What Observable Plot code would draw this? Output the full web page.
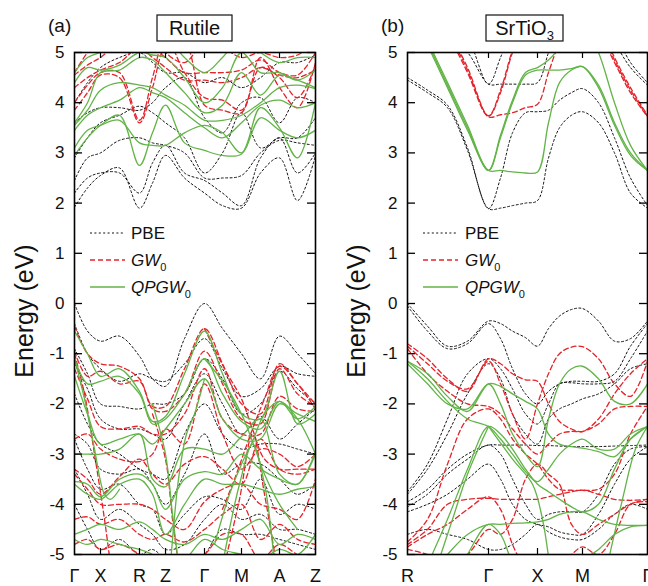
<!DOCTYPE html>
<html><head><meta charset="utf-8">
<script src="https://cdn.jsdelivr.net/npm/d3@7"></script>
<script src="https://cdn.jsdelivr.net/npm/@observablehq/plot@0.6"></script>
<style>
body{margin:0;background:#fff;}
#wrap{position:relative;width:648px;height:586px;overflow:hidden;font-family:"Liberation Sans",Arial,sans-serif;}
.panel{position:absolute;top:0;}
#overlay{position:absolute;left:0;top:0;pointer-events:none;}
</style></head><body><div id="wrap"></div>
<script>
// ---------- k-path (path distance) and labels ----------
const kRutile = [0,13,26,45,65,78,91,110,130,148,167,186,205,223,241];
const kRutileTicks = [0,26,65,91,130,167,205,241];
const kRutileLabels = ["Γ","X","R","Z","Γ","M","A","Z"];
const kSTO = [0,20,40,60,81,93,105,118,130,141,152,164,175,191,207,223,240];
const kSTOTicks = [0,81,130,175,240];
const kSTOLabels = ["R","Γ","X","M","Γ"];
const energyTicks = [-5,-4,-3,-2,-1,0,1,2,3,4,5];

// ---------- Rutile bands (eV) on kRutile ----------
const rutilePBE = [
  [1.92,2.3,2.55,2.7,1.9,2.4,2.95,2.5,2.2,1.95,1.9,2.6,2.9,2.05,2.95],
  [2.2,2.5,2.6,2.6,2.2,2.8,3.15,2.6,2.45,2.2,1.95,2.9,3.3,2.6,3.0],
  [2.45,2.9,3.0,3.25,3.3,3.2,3.15,3.0,2.5,2.5,2.55,3.0,3.25,3.2,3.15],
  [2.9,3.3,3.6,3.75,3.93,3.8,3.6,3.3,2.6,3.0,3.8,3.1,3.3,3.3,3.7],
  [3.6,3.8,3.9,3.9,3.85,4.0,4.3,4.5,3.7,3.4,4.0,4.1,3.6,4.1,4.0],
  [4.0,4.4,4.7,4.9,5.0,4.8,4.6,4.6,4.4,4.5,4.3,4.5,4.8,4.8,4.95],
  [0.0,-0.55,-0.75,-0.65,-1.05,-1.5,-1.65,-0.7,0.0,-0.5,-1.0,-1.5,-0.65,-1.0,-1.4],
  [-0.4,-1.0,-1.3,-1.55,-1.4,-1.5,-1.55,-1.2,-0.7,-1.3,-1.85,-1.7,-1.25,-1.4,-1.45],
  [-0.9,-1.4,-2.0,-2.05,-2.1,-2.0,-2.0,-1.8,-1.1,-1.5,-2.2,-2.0,-1.35,-1.7,-2.0],
  [-1.2,-1.7,-2.3,-2.5,-2.5,-2.6,-2.7,-2.0,-1.4,-2.0,-2.6,-2.25,-2.7,-2.4,-2.1],
  [-1.8,-2.4,-2.8,-3.0,-3.3,-3.4,-3.5,-2.6,-2.0,-2.6,-2.9,-2.8,-2.8,-2.9,-3.0],
  [-2.6,-2.8,-3.3,-3.4,-3.3,-3.6,-4.0,-3.4,-2.6,-3.4,-3.2,-3.2,-3.5,-3.8,-3.6],
  [-2.7,-3.3,-3.7,-3.6,-4.0,-4.1,-4.6,-4.2,-3.85,-3.9,-4.1,-3.5,-4.2,-4.0,-4.1],
  [-3.3,-3.8,-4.3,-4.1,-4.4,-4.6,-4.9,-4.8,-4.3,-4.0,-4.3,-4.2,-4.5,-4.5,-4.6],
  [-4.0,-4.5,-4.9,-4.7,-5.0,-4.9,-5.1,-5.3,-5.0,-4.5,-4.6,-4.6,-4.7,-4.8,-4.9]
];
const rutileGW = [
  [3.85,4.2,4.55,4.5,3.6,4.3,5.1,5.2,3.95,3.85,3.8,4.9,4.3,3.9,4.8],
  [4.0,4.35,4.6,4.6,3.65,4.5,5.3,4.6,4.1,4.05,3.85,4.7,4.5,4.1,4.75],
  [4.3,4.5,4.65,4.8,5.1,4.9,4.7,4.45,4.45,4.4,4.5,4.7,4.55,4.5,4.65],
  [4.55,4.75,4.9,5.2,5.3,5.1,4.9,4.6,4.6,4.6,4.65,4.85,4.6,4.55,5.0],
  [4.6,5.0,5.3,5.5,5.5,5.4,5.0,4.8,5.2,5.1,4.9,5.0,4.9,4.95,5.2],
  [-0.45,-1.0,-1.2,-1.25,-1.5,-2.05,-2.05,-1.3,-0.5,-1.2,-2.0,-2.2,-1.2,-1.6,-2.0],
  [-0.95,-1.45,-1.35,-1.6,-1.55,-2.1,-2.15,-1.8,-0.95,-1.6,-2.3,-2.4,-1.3,-1.8,-2.05],
  [-1.3,-1.9,-2.45,-2.5,-2.45,-2.6,-2.6,-2.2,-1.3,-2.3,-2.6,-2.6,-1.85,-2.1,-2.15],
  [-2.7,-2.6,-2.9,-3.1,-3.15,-3.0,-2.5,-2.8,-1.6,-2.6,-3.3,-2.9,-3.0,-3.25,-3.0],
  [-3.3,-3.5,-3.8,-3.45,-3.1,-3.4,-3.6,-3.2,-3.05,-3.3,-3.6,-2.7,-3.3,-3.4,-3.3],
  [-3.4,-3.7,-4.0,-4.0,-4.0,-4.1,-4.3,-4.5,-3.95,-3.7,-3.6,-4.0,-4.1,-4.3,-3.5],
  [-4.3,-4.25,-4.4,-4.3,-4.6,-4.7,-4.6,-4.75,-4.5,-4.2,-4.0,-4.7,-4.4,-4.7,-4.8],
  [-4.8,-4.7,-4.9,-4.8,-5.0,-5.2,-5.0,-5.2,-5.0,-4.6,-4.6,-5.1,-4.8,-5.0,-5.1]
];
const rutileQPGW = [
  [2.95,3.3,3.55,3.75,2.75,3.4,3.95,3.2,3.05,2.95,2.98,3.9,3.5,2.9,4.0],
  [3.1,3.45,3.55,3.65,3.2,3.15,3.15,3.4,3.55,3.4,3.0,3.7,3.45,3.3,3.45],
  [3.45,3.75,3.9,4.05,4.3,4.2,4.1,3.8,3.5,3.3,3.6,3.95,4.05,3.9,4.0],
  [3.55,3.85,4.25,4.4,4.35,4.3,4.15,3.95,3.65,3.65,3.75,4.0,4.3,4.35,4.28],
  [3.6,4.0,4.6,4.65,4.9,4.85,4.6,4.2,3.8,3.95,4.6,4.15,4.55,4.45,4.3],
  [4.4,4.7,4.65,4.75,5.0,4.95,4.9,4.5,4.0,4.3,5.0,4.6,4.6,4.45,4.65],
  [4.6,4.9,5.0,5.1,5.2,5.2,5.3,4.9,4.6,4.9,5.3,5.0,4.8,4.9,4.9],
  [-0.55,-1.0,-1.45,-1.3,-1.75,-2.35,-2.25,-1.4,-0.55,-1.4,-2.2,-2.3,-1.35,-2.4,-2.2],
  [-1.1,-1.6,-1.55,-1.45,-1.8,-2.4,-2.3,-1.8,-1.1,-1.8,-2.35,-2.5,-1.95,-2.3,-2.05],
  [-1.45,-2.2,-2.8,-2.7,-2.6,-2.8,-2.5,-2.0,-1.5,-2.3,-2.7,-2.7,-2.0,-2.2,-2.35],
  [-3.0,-3.0,-3.0,-2.9,-2.6,-3.5,-3.65,-2.9,-2.9,-3.0,-2.65,-2.3,-3.4,-3.6,-2.95],
  [-3.55,-3.6,-3.85,-3.5,-3.4,-3.6,-4.1,-3.5,-3.35,-3.4,-3.0,-3.3,-3.5,-3.6,-3.0],
  [-3.6,-3.8,-3.9,-3.6,-3.5,-3.8,-4.6,-4.0,-3.5,-3.6,-3.6,-3.7,-3.8,-3.7,-3.65],
  [-4.6,-4.5,-4.4,-4.5,-4.35,-4.5,-4.7,-4.8,-4.6,-4.7,-4.5,-4.3,-4.8,-4.6,-4.7],
  [-4.7,-4.8,-4.7,-4.8,-4.9,-5.0,-5.2,-5.1,-4.7,-4.9,-5.0,-5.1,-4.9,-5.0,-4.6]
];
// steep bands, [k, E] pairs
const rutileGWSteep = [
  [[0,-1.0],[10,-1.8],[20,-3.0],[30,-4.3],[36,-5.2]],
  [[78,-2.2],[91,-3.1],[98,-4.3],[104,-5.2]],
  [[130,-0.5],[150,-1.3],[167,-1.9],[178,-2.5],[190,-3.1],[205,-3.3],[223,-3.3],[241,-3.3]],
  [[148,-4.1],[160,-3.5],[178,-2.5],[190,-1.9],[205,-1.25],[223,-1.6],[241,-2.1]],
  [[150,-5.2],[165,-3.9],[178,-2.6],[190,-3.8],[202,-5.2]]
];
const rutileQPGWSteep = [
  [[0,-1.1],[10,-1.9],[20,-2.9],[30,-3.8],[36,-3.9],[45,-3.7]],
  [[78,-2.0],[91,-3.0],[98,-4.2],[104,-5.2]],
  [[96,-5.2],[104,-3.5],[112,-2.6],[120,-2.2],[130,-1.5]],
  [[130,-1.1],[150,-1.6],[167,-2.2],[178,-2.75],[190,-3.4],[205,-4.0],[223,-4.5]],
  [[140,-4.8],[155,-3.8],[167,-3.2],[178,-2.75],[190,-2.2],[205,-1.95],[223,-2.3],[241,-3.0]],
  [[148,-5.2],[165,-3.6],[178,-2.8],[190,-3.6],[200,-5.2]]
];

// ---------- SrTiO3 bands (eV) on kSTO ----------
const stoPBE = [
  [4.5,4.25,3.95,3.1,1.89,1.9,1.95,2.0,2.05,2.9,3.5,3.75,3.82,3.6,3.0,2.2,1.9],
  [4.45,4.2,3.9,3.05,1.89,2.5,3.4,3.8,3.82,3.85,4.05,4.2,4.28,4.0,3.3,2.5,1.95],
  [5.8,5.6,5.3,5.0,4.37,4.37,4.37,4.37,4.4,5.0,5.6,5.9,6.0,5.7,5.2,4.7,4.35],
  [6.0,5.9,5.7,5.3,4.37,4.9,5.5,5.9,6.0,6.1,6.2,6.2,6.2,5.9,5.4,4.8,4.4],
  [0.0,-0.45,-0.85,-0.75,-0.35,-0.4,-0.55,-0.68,-0.85,-0.5,-0.25,-0.12,-0.1,-0.35,-0.75,-0.7,-0.35],
  [-0.05,-0.55,-0.9,-0.8,-0.4,-0.7,-1.3,-1.8,-2.0,-1.75,-1.6,-1.55,-1.55,-1.55,-1.4,-0.85,-0.4],
  [-3.75,-3.2,-2.3,-1.4,-1.1,-1.3,-1.7,-2.2,-2.4,-2.0,-1.6,-1.58,-1.6,-1.6,-1.55,-1.1,-0.55],
  [-3.8,-3.3,-2.6,-1.8,-1.2,-1.5,-2.2,-2.6,-2.8,-2.3,-2.1,-2.0,-1.9,-1.8,-1.6,-1.3,-1.2],
  [-3.95,-3.7,-3.3,-3.0,-2.82,-2.82,-2.82,-2.82,-2.83,-2.83,-2.84,-2.85,-2.85,-2.85,-2.84,-2.83,-2.82],
  [-4.05,-3.8,-3.4,-3.1,-2.82,-3.0,-3.5,-4.0,-4.3,-4.2,-4.15,-4.15,-4.15,-3.8,-3.2,-2.9,-2.85],
  [-4.15,-4.0,-3.8,-3.5,-3.2,-3.5,-4.0,-4.3,-4.4,-4.45,-4.55,-4.6,-4.6,-4.2,-3.6,-3.1,-2.85],
  [-4.6,-4.5,-4.6,-4.7,-4.9,-4.9,-4.8,-4.6,-4.4,-4.55,-4.65,-4.7,-4.7,-4.5,-4.2,-4.0,-4.1]
];
const stoGW = [
  [6.8,6.2,5.4,4.6,3.72,3.76,3.8,3.9,3.97,4.6,5.2,5.6,5.7,5.4,4.8,4.2,3.72],
  [6.8,6.2,5.45,4.65,3.73,4.2,5.0,5.6,6.0,6.0,6.0,6.0,6.0,5.5,4.85,4.25,3.73],
  [6.9,6.3,5.5,4.7,3.74,4.25,5.05,5.7,6.1,6.1,6.1,6.1,6.1,5.6,4.9,4.3,3.75],
  [-0.8,-1.1,-1.5,-1.75,-1.1,-1.2,-1.4,-1.52,-1.55,-2.0,-2.35,-2.5,-2.55,-2.3,-1.8,-1.4,-1.1],
  [-0.85,-1.2,-1.55,-1.7,-1.15,-1.6,-2.2,-2.7,-2.0,-1.4,-1.0,-0.87,-0.86,-1.1,-1.6,-1.85,-1.15],
  [-0.9,-1.4,-1.75,-2.0,-2.05,-2.2,-2.5,-2.8,-3.0,-2.8,-2.6,-2.55,-2.55,-2.4,-2.1,-2.05,-2.05],
  [-4.75,-4.3,-3.2,-2.3,-2.1,-2.3,-2.7,-3.0,-3.2,-3.5,-3.7,-3.72,-3.72,-3.7,-3.4,-2.6,-2.05],
  [-4.8,-4.5,-4.0,-3.9,-3.88,-3.9,-3.9,-3.9,-3.9,-3.85,-3.8,-3.75,-3.72,-3.8,-3.9,-3.92,-3.9],
  [-4.85,-4.6,-4.4,-4.1,-3.85,-4.1,-4.8,-5.3,-5.6,-5.4,-5.2,-5.0,-4.85,-5.0,-4.6,-4.0,-3.95],
  [-4.9,-5.0,-5.2,-5.0,-4.5,-4.6,-4.3,-3.5,-3.2,-3.4,-3.6,-4.4,-4.6,-4.4,-4.2,-4.0,-3.9]
];
const stoQPGW = [
  [6.0,5.15,4.3,3.45,2.65,2.65,2.62,2.6,2.62,3.6,4.4,4.65,4.72,4.35,3.6,3.0,2.65],
  [6.1,5.2,4.35,3.5,2.65,3.3,4.0,4.55,4.65,4.65,4.65,4.68,4.72,4.3,3.55,2.95,2.65],
  [6.2,5.25,4.4,3.55,2.65,3.35,4.05,4.6,4.7,4.85,5.1,5.5,5.6,5.0,4.0,3.15,2.65],
  [-1.15,-1.4,-1.85,-2.15,-1.6,-1.65,-1.8,-1.95,-2.1,-2.6,-2.8,-2.85,-2.88,-2.95,-3.05,-2.7,-2.45],
  [-1.15,-1.5,-1.95,-2.3,-2.45,-2.7,-3.0,-3.35,-3.55,-3.3,-3.0,-2.8,-2.7,-2.9,-2.9,-2.6,-2.45],
  [-1.2,-1.6,-2.0,-2.1,-1.6,-2.0,-2.6,-3.0,-3.25,-2.3,-1.6,-1.3,-1.25,-1.5,-1.95,-2.0,-1.6],
  [-6.0,-5.2,-4.3,-3.3,-2.45,-2.6,-2.9,-3.3,-3.6,-3.75,-3.9,-4.05,-4.15,-4.0,-3.3,-2.7,-2.45],
  [-6.0,-5.5,-5.0,-4.6,-4.4,-4.4,-4.38,-4.37,-4.35,-4.3,-4.2,-4.15,-4.15,-4.3,-4.4,-4.42,-4.42],
  [-7.0,-6.4,-5.8,-5.0,-4.4,-4.6,-5.2,-5.8,-6.3,-6.0,-5.5,-5.2,-5.1,-4.9,-4.6,-4.45,-4.42]
];
const stoQPGWSteep = [
  [[81,-2.45],[105,-3.1],[125,-3.6],[135,-4.3],[142,-5.2]],
  [[200,-5.2],[215,-3.9],[228,-2.9],[240,-2.45]],
  [[30,-5.2],[45,-4.3],[60,-3.4],[81,-2.45]]
];

// ---------- styles ----------
const RED = "#e3242b", GREEN = "#62b447";

function rowsFrom(k, bands, series, tag) {
  const out = [];
  bands.forEach((b, i) => b.forEach((e, j) => out.push({series, band: tag + series + i, k: k[j], E: e})));
  return out;
}
function rowsPairs(bands, series, tag) {
  const out = [];
  bands.forEach((b, i) => b.forEach(([k, e]) => out.push({series, band: tag + series + "s" + i, k, E: e})));
  return out;
}

function panel({k, kmax, ticks, labels, pbe, gw, qp, mL, mR}) {
  const lineOpts = {x: "k", y: "E", z: "band", curve: "catmull-rom", clip: true};
  const inner = ticks.filter(t => t > 0 && t < kmax);
  return Plot.plot({
    width: 324, height: 586,
    marginLeft: mL, marginRight: mR, marginTop: 52, marginBottom: 32,
    style: {fontFamily: "'Liberation Sans', Arial, sans-serif", background: "transparent", overflow: "visible"},
    x: {domain: [0, kmax], axis: null},
    y: {domain: [-5, 5], axis: null},
    marks: [
      Plot.line(pbe, {...lineOpts, stroke: "#111", strokeWidth: 1, strokeDasharray: "2,2.4"}),
      Plot.line(gw, {...lineOpts, stroke: RED, strokeWidth: 1.3, strokeDasharray: "5,3"}),
      Plot.line(qp, {...lineOpts, stroke: GREEN, strokeWidth: 1.3}),
      Plot.ruleY(energyTicks, {x1: 0, x2: 8, stroke: "#000", strokeWidth: 1.3}),
      Plot.ruleY(energyTicks, {x1: kmax - 8, x2: kmax, stroke: "#000", strokeWidth: 1.3}),
      Plot.ruleX(inner, {y1: -5, y2: -4.88, stroke: "#000", strokeWidth: 1.2}),
      Plot.ruleX(inner, {y1: 5, y2: 4.88, stroke: "#000", strokeWidth: 1.2}),
      Plot.axisY(energyTicks, {label: null, tickSize: 0, tickPadding: 10, fontSize: 17, tickFormat: d => String(d), fill: "#111"}),
      Plot.axisX(ticks, {label: null, tickSize: 0, tickPadding: 15, fontSize: 18, tickFormat: d => labels[ticks.indexOf(d)], fill: "#111"}),
      Plot.frame({stroke: "#000", strokeWidth: 1.6})
    ]
  });
}

const wrap = document.getElementById("wrap");

const pA = panel({
  k: kRutile, kmax: 241, ticks: kRutileTicks, labels: kRutileLabels,
  pbe: rowsFrom(kRutile, rutilePBE, "PBE", "a"),
  gw: rowsFrom(kRutile, rutileGW, "GW", "a").concat(rowsPairs(rutileGWSteep, "GW", "a")),
  qp: rowsFrom(kRutile, rutileQPGW, "QP", "a").concat(rowsPairs(rutileQPGWSteep, "QP", "a")),
  mL: 74, mR: 9
});
const dA = document.createElement("div"); dA.className = "panel"; dA.style.left = "0px"; dA.appendChild(pA); wrap.appendChild(dA);

const pB = panel({
  k: kSTO, kmax: 240, ticks: kSTOTicks, labels: kSTOLabels,
  pbe: rowsFrom(kSTO, stoPBE, "PBE", "b"),
  gw: rowsFrom(kSTO, stoGW, "GW", "b"),
  qp: rowsFrom(kSTO, stoQPGW, "QP", "b").concat(rowsPairs(stoQPGWSteep, "QP", "b")),
  mL: 83, mR: 1
});
const dB = document.createElement("div"); dB.className = "panel"; dB.style.left = "324px"; dB.appendChild(pB); wrap.appendChild(dB);

// ---------- overlay: panel tags, titles, y labels, legends ----------
const svg = d3.select(wrap).append("svg").attr("id", "overlay")
  .attr("width", 648).attr("height", 586)
  .style("font-family", "'Liberation Sans', Arial, sans-serif");

const panelsMeta = [
  {tag: "(a)", tagX: 48, boxX: 157, boxW: 75, title: "Rutile", sub: null, ylabX: 33, legLine: 90, legText: 131},
  {tag: "(b)", tagX: 381, boxX: 486, boxW: 77, title: "SrTiO", sub: "3", ylabX: 365, legLine: 423, legText: 465}
];
panelsMeta.forEach(m => {
  svg.append("text").attr("x", m.tagX).attr("y", 32).attr("font-size", 19).attr("fill", "#111").text(m.tag);
  svg.append("rect").attr("x", m.boxX).attr("y", 15).attr("width", m.boxW).attr("height", 26)
    .attr("fill", "#fff").attr("stroke", "#111").attr("stroke-width", 1.2);
  const t = svg.append("text").attr("x", m.boxX + m.boxW / 2).attr("y", 35).attr("text-anchor", "middle")
    .attr("font-size", 20).attr("fill", "#111");
  t.append("tspan").text(m.title);
  if (m.sub) t.append("tspan").attr("font-size", 13).attr("dy", 5).text(m.sub);
  svg.append("text").attr("transform", `translate(${m.ylabX},311) rotate(-90)`).attr("text-anchor", "middle")
    .attr("font-size", 25).attr("fill", "#111").text("Energy (eV)");
  const legend = [
    {y: 233, stroke: "#111", dash: "2,2.4", w: 1, main: "PBE", italic: false, sub: null},
    {y: 260, stroke: RED, dash: "5,3", w: 1.3, main: "GW", italic: true, sub: "0"},
    {y: 287, stroke: GREEN, dash: null, w: 1.3, main: "QPGW", italic: true, sub: "0"}
  ];
  legend.forEach(l => {
    svg.append("line").attr("x1", m.legLine).attr("x2", m.legLine + 35).attr("y1", l.y).attr("y2", l.y)
      .attr("stroke", l.stroke).attr("stroke-width", l.w).attr("stroke-dasharray", l.dash);
    const tx = svg.append("text").attr("x", m.legText).attr("y", l.y + 6).attr("font-size", 17).attr("fill", "#111");
    tx.append("tspan").attr("font-style", l.italic ? "italic" : "normal").text(l.main);
    if (l.sub) tx.append("tspan").attr("font-size", 11).attr("dy", 5).text(l.sub);
  });
});
</script></body></html>
